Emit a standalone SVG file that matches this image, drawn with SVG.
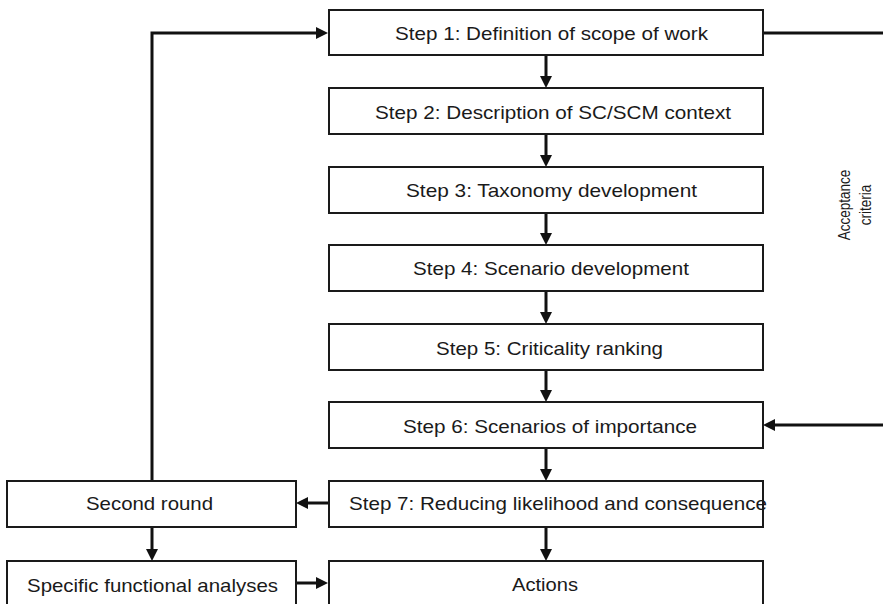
<svg xmlns="http://www.w3.org/2000/svg" width="883" height="604" viewBox="0 0 883 604">
<style>
.box{fill:#fff;stroke:#1a1a1a;stroke-width:2}
.lbl{font-family:"Liberation Sans",Arial,sans-serif;font-size:18.5px;fill:#1a1a1a}
.rot{font-family:"Liberation Sans",Arial,sans-serif;font-size:13.5px;fill:#1a1a1a}
.con{fill:none;stroke:#111;stroke-width:3}
.arr{marker-end:url(#ah)}
</style>
<defs>
<marker id="ah" markerUnits="userSpaceOnUse" markerWidth="12" markerHeight="12" refX="8" refY="6" orient="auto">
<path d="M0,0 L12,6 L0,12 z" fill="#111"/>
</marker>
</defs>
<rect width="883" height="604" fill="#fff"/>
<g id="connectors">
<path class="con arr" d="M546,55 V84"/>
<path class="con arr" d="M546,134 V163"/>
<path class="con arr" d="M546,213 V241"/>
<path class="con arr" d="M546,291 V320"/>
<path class="con arr" d="M546,370 V398"/>
<path class="con arr" d="M546,448 V477"/>
<path class="con arr" d="M546,527 V557"/>
<path class="con arr" d="M328,503 H300"/>
<path class="con arr" d="M152,527 V557"/>
<path class="con arr" d="M296,583 H324"/>
<path class="con arr" d="M152,480 V33 H324"/>
<path class="con" d="M763,33 H883"/>
<path class="con arr" d="M883,425 H767"/>
</g>
<g id="step1"><rect class="box" x="329" y="10" width="434" height="45"/><text class="lbl" x="395" y="40" textLength="313" lengthAdjust="spacingAndGlyphs">Step 1: Definition of scope of work</text></g>
<g id="step2"><rect class="box" x="329" y="88" width="434" height="46"/><text class="lbl" x="375" y="119" textLength="356" lengthAdjust="spacingAndGlyphs">Step 2: Description of SC/SCM context</text></g>
<g id="step3"><rect class="box" x="329" y="167" width="434" height="46"/><text class="lbl" x="406" y="197" textLength="291" lengthAdjust="spacingAndGlyphs">Step 3: Taxonomy development</text></g>
<g id="step4"><rect class="box" x="329" y="245" width="434" height="46"/><text class="lbl" x="413" y="275" textLength="276" lengthAdjust="spacingAndGlyphs">Step 4: Scenario development</text></g>
<g id="step5"><rect class="box" x="329" y="324" width="434" height="46"/><text class="lbl" x="436" y="355" textLength="227" lengthAdjust="spacingAndGlyphs">Step 5: Criticality ranking</text></g>
<g id="step6"><rect class="box" x="329" y="402" width="434" height="46"/><text class="lbl" x="403" y="433" textLength="294" lengthAdjust="spacingAndGlyphs">Step 6: Scenarios of importance</text></g>
<g id="step7"><rect class="box" x="329" y="481" width="434" height="46"/><text class="lbl" x="349" y="510" textLength="418" lengthAdjust="spacingAndGlyphs">Step 7: Reducing likelihood and consequence</text></g>
<g id="actions"><rect class="box" x="329" y="561" width="434" height="52"/><text class="lbl" x="512" y="591" textLength="66" lengthAdjust="spacingAndGlyphs">Actions</text></g>
<g id="second-round"><rect class="box" x="7" y="481" width="289" height="46"/><text class="lbl" x="86" y="510" textLength="127" lengthAdjust="spacingAndGlyphs">Second round</text></g>
<g id="specific"><rect class="box" x="7" y="561" width="289" height="52"/><text class="lbl" x="27" y="592" textLength="251" lengthAdjust="spacingAndGlyphs">Specific functional analyses</text></g>
<g id="acceptance">
<text class="rot" text-anchor="middle" transform="translate(850,205) scale(1.25,1) rotate(-90)">Acceptance</text>
<text class="rot" text-anchor="middle" transform="translate(871,205) scale(1.25,1) rotate(-90)">criteria</text>
</g>
</svg>
